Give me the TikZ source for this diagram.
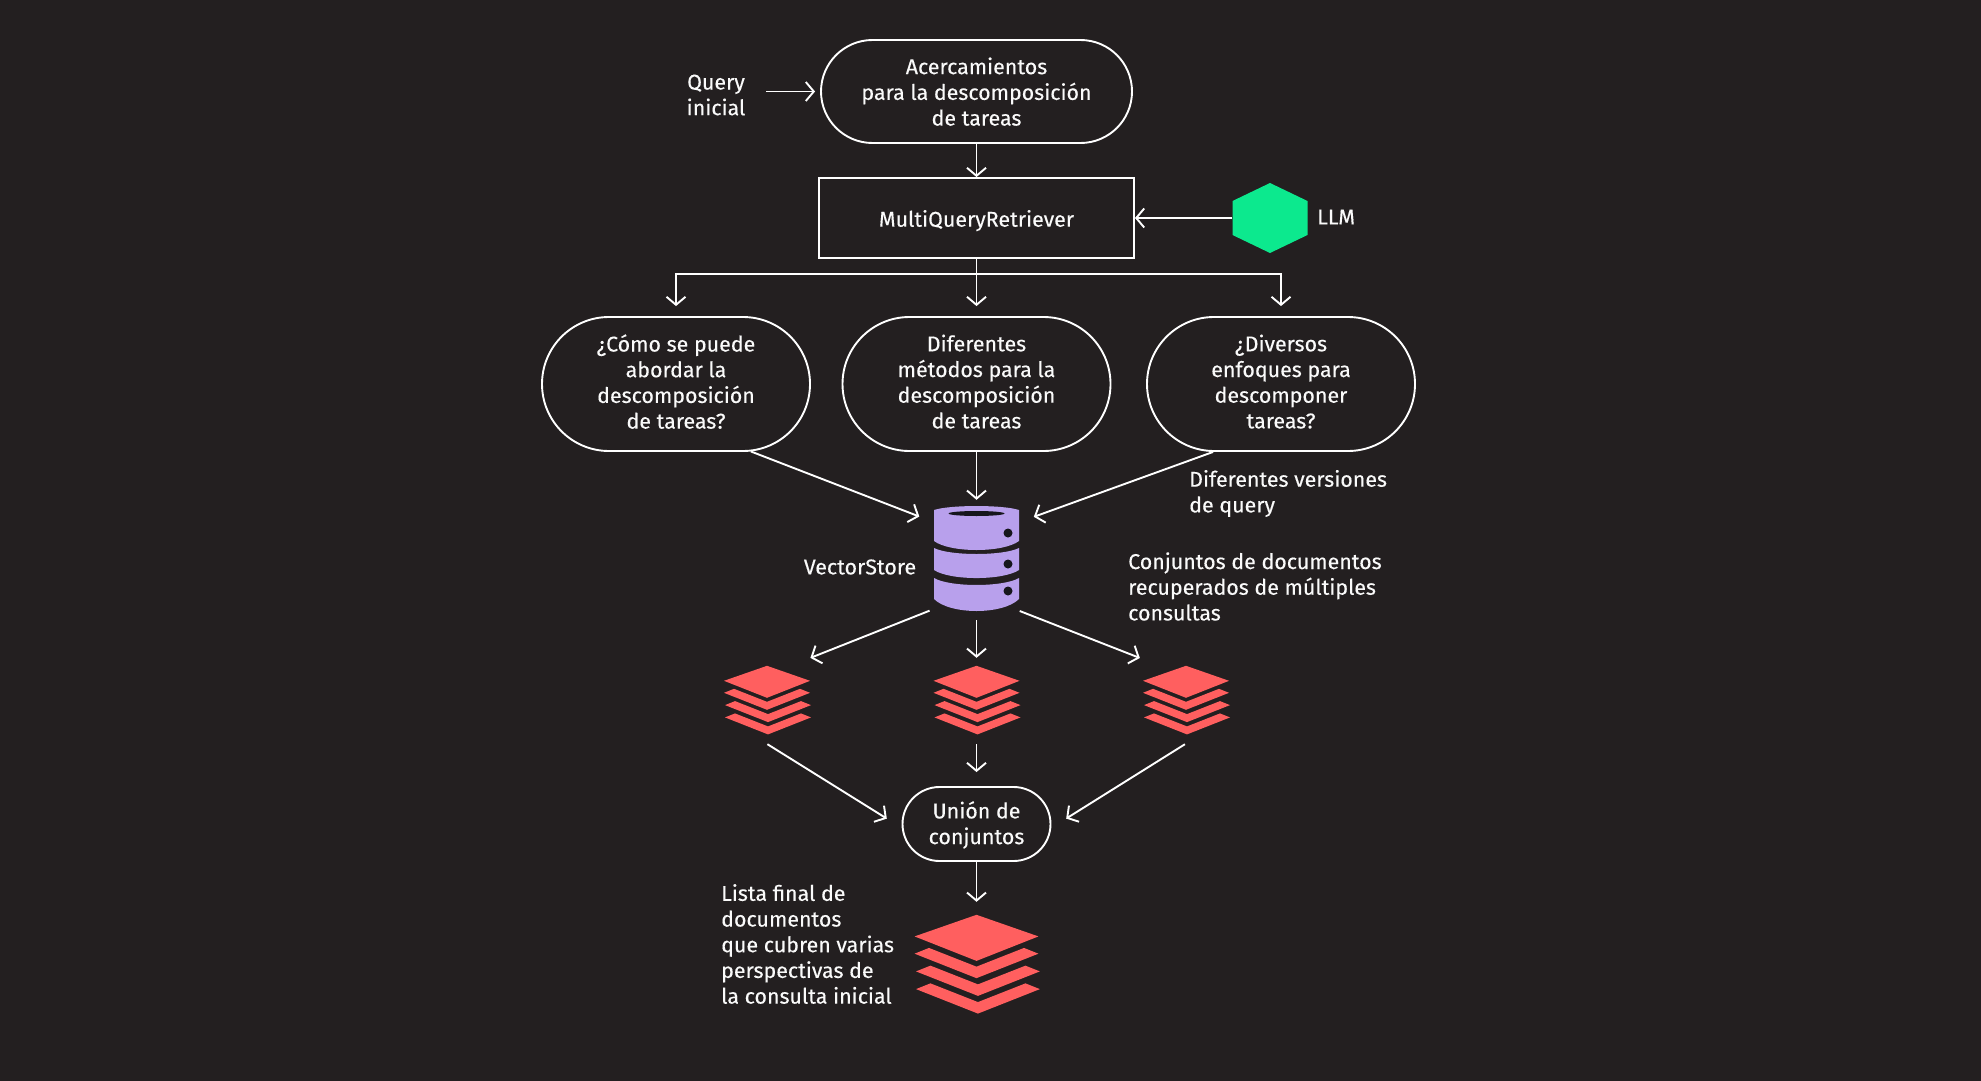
\documentclass[tikz,border=0pt]{standalone}
\usepackage{fontspec}
\setmainfont[FakeBold=0.25]{Fira Sans}
\usetikzlibrary{shapes.misc,arrows.meta}
\definecolor{bgdark}{HTML}{231F20}
\definecolor{textwhite}{HTML}{FAFAFA}
\definecolor{stackred}{HTML}{FF5F5F}
\definecolor{dbpurple}{HTML}{B8A0EC}
\definecolor{dbdark}{HTML}{16161C}
\definecolor{llmgreen}{HTML}{0CE98E}
\newcommand{\lift}{\rule[-5pt]{0pt}{5pt}}
\newcommand{\drop}{\rule{0pt}{22pt}}
\tikzset{
	label text/.style={text=textwhite,font=\fontsize{21.4}{25.7}\selectfont,inner sep=0pt},
	pill/.style={label text,draw=white,line width=1.9pt,rounded rectangle,align=center,minimum height=134pt,minimum width=268pt},
	link/.style={draw=white,line width=1.9pt,-{Straight Barb[length=8pt,width=19pt,line width=1.9pt]}},
	icon box/.style={inner sep=0pt,minimum width=86pt,minimum height=69pt},
	layers/.pic={
		\fill[stackred] (0,0) -- (43,15) -- (0,32) -- (-43,15) -- cycle;
		\foreach \k in {0,1,2} {
			\fill[stackred,shift={({min(\k,1)},12.3*\k)}] (-43,27) -- (-33,23) -- (0,36) -- (33,23) -- (43,27) -- (0,44) -- cycle;
		}
	}
}
\begin{document}
\begin{tikzpicture}[x=1pt,y=-1pt]
	\fill[bgdark] (0,0) rectangle (1981,1081);
	\useasboundingbox (0,0) rectangle (1981,1081);

	\node [label text,align=center] (query) at (716,95) {Query\\inicial};
	\node [pill,minimum width=311pt,minimum height=103pt] (top) at (976.5,91.5) {\rule{0pt}{17pt}Acercamientos\\para la descomposición\\de tareas};
	\node [label text,draw=white,line width=1.9pt,minimum width=315pt,minimum height=80pt] (retriever) at (976.5,218) {\drop MultiQueryRetriever};
	\node [inner sep=0pt,minimum width=75pt,minimum height=70pt] (hex) at (1270,218) {};
	\fill[llmgreen] (1270,183) -- (1307.5,201) -- (1307.5,235) -- (1270,253) -- (1232.5,235) -- (1232.5,201) -- cycle;
	\node [label text,anchor=west] (llm) at (1317,217) {LLM};

	\node [pill] (pilla) at (676,384) {¿Cómo se puede\\abordar la\\descomposición\\de tareas?\lift};
	\node [pill] (pillb) at (976.5,384) {Diferentes\\métodos para la\\descomposición\\de tareas\lift};
	\node [pill] (pillc) at (1281,384) {¿Diversos\\enfoques para\\descomponer\\tareas?\lift};
	\node [label text,anchor=west,align=left] (versions) at (1189,493.5) {Diferentes versiones\\de query};

	% base de datos
	\node [inner sep=0pt,minimum width=86pt,minimum height=105pt] (db) at (976.5,559.5) {};
	\fill[dbpurple] (934,510) .. controls (950,504.7) and (1003,504.7) .. (1019,510) -- (1019,541) .. controls (1003,553) and (950,553) .. (934,541) -- cycle;
	\fill[dbpurple] (934,548) .. controls (950,556) and (1003,556) .. (1019,548) -- (1019,570) .. controls (1003,580.7) and (950,580.7) .. (934,570) -- cycle;
	\fill[dbpurple] (934,578) .. controls (950,587.3) and (1003,587.3) .. (1019,578) -- (1019,599) .. controls (1003,615) and (950,615) .. (934,599) -- cycle;
	\fill[dbdark] (976.5,513.5) ellipse [x radius=28pt,y radius=2.5pt];
	\foreach \y in {533,564,591} { \fill[dbdark] (1008,\y) circle [radius=4.5pt]; }
	\node [label text] (vectorstore) at (860,567) {VectorStore};
	\node [label text,anchor=west,align=left] (sets) at (1128,586.5) {Conjuntos de documentos\\recuperados de múltiples\\consultas};

	\foreach \name/\x in {stacka/767,stackb/976.5,stackc/1186} {
		\node [icon box] (\name) at (\x,700.5) {};
		\pic at (\name.north) {layers};
	}
	\node [label text,draw=white,line width=1.9pt,rounded rectangle,align=center,minimum width=148pt,minimum height=74pt] (union) at (976.5,824) {\rule{0pt}{19pt}Unión de\\conjuntos};
	\node [icon box,minimum width=129pt,minimum height=98pt] (final) at (976.5,964) {};
	\pic [scale=1.44] at (final.north) {layers};
	\node [label text,anchor=west,align=left] (list) at (721,944) {Lista final de\\documentos\\que cubren varias\\perspectivas de\\la consulta inicial};

	\draw[link,shorten <=21pt,shorten >=5pt] (query.east |- top.west) -- (top.west);
	\draw[link] (top.south) -- (retriever.north);
	\draw[link] (hex.west) -- (retriever.east);

	\coordinate (bus) at (retriever.south |- 0,274);
	\draw[link,shorten >=10pt] (retriever.south) -- (pillb.north);
	\draw[link,shorten >=10pt] (bus) -| (pilla.north);
	\draw[link,shorten >=10pt] (bus) -| (pillc.north);

	\draw[link,shorten >=15pt] (pilla.-42.5) -- (db.139);
	\draw[link,shorten >=7pt] (pillb.south) -- (db.north);
	\draw[link,shorten >=15pt] (pillc.-135) -- (db.41);

	\draw[link,shorten <=4pt,shorten >=21.5pt] (db.-131) -- (stacka.56);
	\draw[link,shorten <=8pt,shorten >=8pt] (db.south) -- (stackb.north);
	\draw[link,shorten >=21.5pt] (db.-50) -- (stackc.127);

	\draw[link,shorten <=17pt,shorten >=17.6pt] (stacka.-112) -- (union.183);
	\draw[link,shorten <=9pt,shorten >=14pt] (stackb.south) -- (union.north);
	\draw[link,shorten <=17pt,shorten >=17.6pt] (stackc.-69) -- (union.-3);
	\draw[link,shorten >=13pt] (union.south) -- (final.north);
\end{tikzpicture}
\end{document}
